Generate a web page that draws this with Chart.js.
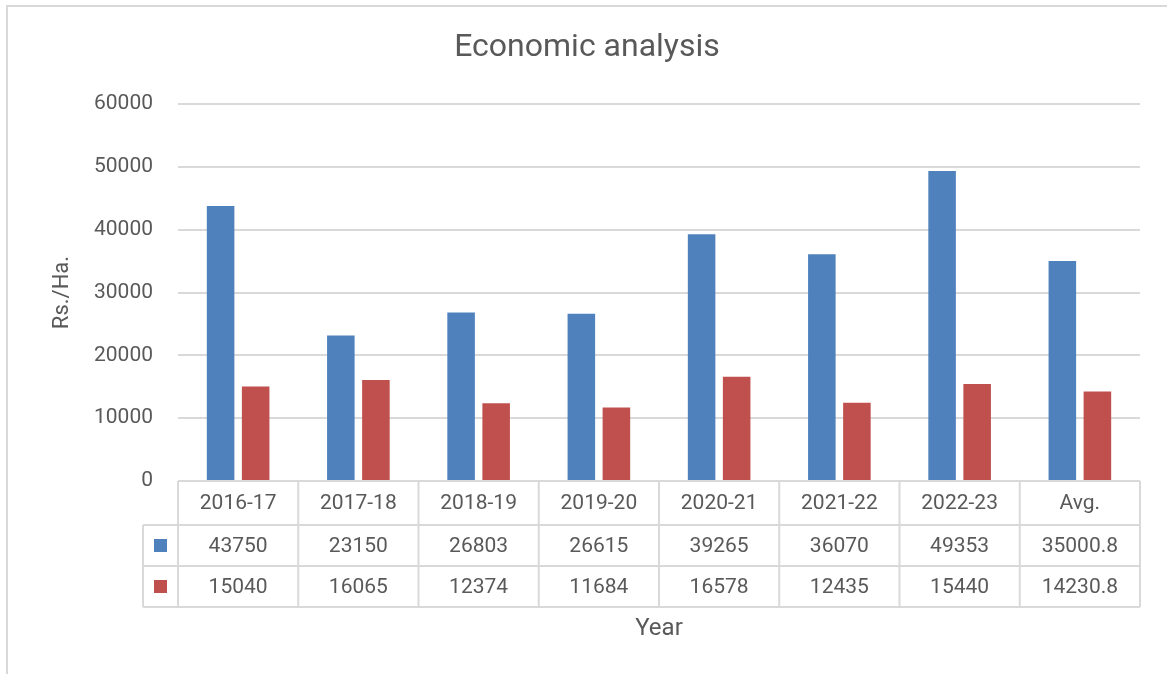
<!DOCTYPE html>
<html>
<head>
<meta charset="utf-8">
<script src="https://cdn.jsdelivr.net/npm/chart.js@4/dist/chart.umd.min.js"></script>
<style>
  html, body { margin: 0; padding: 0; background: #fff; }
  canvas { display: block; }
</style>
</head>
<body>
<canvas id="myChart" width="1167" height="674"></canvas>
<script>
const years = ['2016-17', '2017-18', '2018-19', '2019-20', '2020-21', '2021-22', '2022-23', 'Avg.'];
const seriesBlue = [43750, 23150, 26803, 26615, 39265, 36070, 49353, 35000.8];
const seriesRed = [15040, 16065, 12374, 11684, 16578, 12435, 15440, 14230.8];
const yTicks = [0, 10000, 20000, 30000, 40000, 50000, 60000];

const blue = '#4F81BD';
const red = '#C0504D';
const textColor = '#595959';
const lineColor = '#d9d9d9';

// frame, title, data table under the plot and the "Year" caption
const tablePlugin = {
    id: 'dataTable',
    beforeDraw(chart) {
        const ctx = chart.ctx;
        ctx.save();
        ctx.fillStyle = '#fff';
        ctx.fillRect(0, 0, chart.width, chart.height);
        ctx.strokeStyle = lineColor;
        ctx.lineWidth = 2;
        ctx.beginPath();
        ctx.moveTo(7, chart.height);
        ctx.lineTo(7, 6);
        ctx.lineTo(chart.width, 6);
        ctx.stroke();

        ctx.fillStyle = textColor;
        ctx.font = '32px Roboto';
        ctx.textAlign = 'center';
        ctx.textBaseline = 'middle';
        ctx.fillText('Economic analysis', 587, 48);
        ctx.restore();
    },
    afterDraw(chart) {
        const ctx = chart.ctx;
        const x = chart.scales.x;
        const area = chart.chartArea;
        const step = (area.right - area.left) / years.length;
        const top = area.bottom;
        const rows = [top, top + 44, top + 85, top + 126];
        const keyLeft = area.left - 35;

        ctx.save();
        ctx.strokeStyle = lineColor;
        ctx.lineWidth = 2;
        ctx.beginPath();
        ctx.moveTo(area.left, rows[0]);
        ctx.lineTo(area.right, rows[0]);
        for (let r = 1; r < rows.length; r++) {
            ctx.moveTo(keyLeft, rows[r]);
            ctx.lineTo(area.right, rows[r]);
        }
        for (let i = 0; i <= years.length; i++) {
            const cx = area.left + i * step;
            ctx.moveTo(cx, rows[0]);
            ctx.lineTo(cx, rows[3]);
        }
        ctx.moveTo(keyLeft, rows[1]);
        ctx.lineTo(keyLeft, rows[3]);
        ctx.stroke();

        ctx.fillStyle = textColor;
        ctx.font = '21px Roboto';
        ctx.textAlign = 'center';
        ctx.textBaseline = 'middle';
        years.forEach((label, i) => {
            const cx = x.getPixelForValue(i);
            ctx.fillText(label, cx, (rows[0] + rows[1]) / 2 + 1);
            ctx.fillText(String(seriesBlue[i]), cx, (rows[1] + rows[2]) / 2 + 1);
            ctx.fillText(String(seriesRed[i]), cx, (rows[2] + rows[3]) / 2 + 1);
        });

        const keyX = (keyLeft + area.left) / 2;
        ctx.fillStyle = blue;
        ctx.fillRect(keyX - 6.5, (rows[1] + rows[2]) / 2 - 6.5, 13, 13);
        ctx.fillStyle = red;
        ctx.fillRect(keyX - 6.5, (rows[2] + rows[3]) / 2 - 6.5, 13, 13);

        ctx.fillStyle = textColor;
        ctx.font = '24px Roboto';
        ctx.fillText('Year', (area.left + area.right) / 2, rows[3] + 22);
        ctx.restore();
    }
};

const ctx = document.getElementById('myChart').getContext('2d');
const myChart = new Chart(ctx, {
    type: 'bar',
    data: {
        labels: years,
        datasets: [{
            label: '',
            data: seriesBlue,
            backgroundColor: blue,
            categoryPercentage: 0.583,
            barPercentage: 0.786
        }, {
            label: '',
            data: seriesRed,
            backgroundColor: red,
            categoryPercentage: 0.583,
            barPercentage: 0.786
        }]
    },
    options: {
        responsive: false,
        animation: false,
        events: [],
        layout: {
            padding: { left: 0, top: 104, right: 27, bottom: 193 }
        },
        scales: {
            x: {
                display: false
            },
            y: {
                min: 0,
                max: 60000,
                afterFit(scale) { scale.width = 178; },
                afterBuildTicks(scale) { scale.ticks = yTicks.map(v => ({ value: v })); },
                grid: { color: lineColor, lineWidth: 2, drawTicks: false },
                border: { display: false },
                ticks: {
                    color: textColor,
                    font: { family: 'Roboto', size: 21 },
                    padding: 25,
                    callback: (v) => String(v)
                },
                title: {
                    display: true,
                    text: 'Rs./Ha.',
                    color: textColor,
                    font: { family: 'Roboto', size: 22 },
                    padding: { top: 49 }
                }
            }
        },
        plugins: {
            legend: { display: false },
            tooltip: { enabled: false },
            title: { display: false }
        }
    },
    plugins: [tablePlugin]
});
</script>
</body>
</html>
